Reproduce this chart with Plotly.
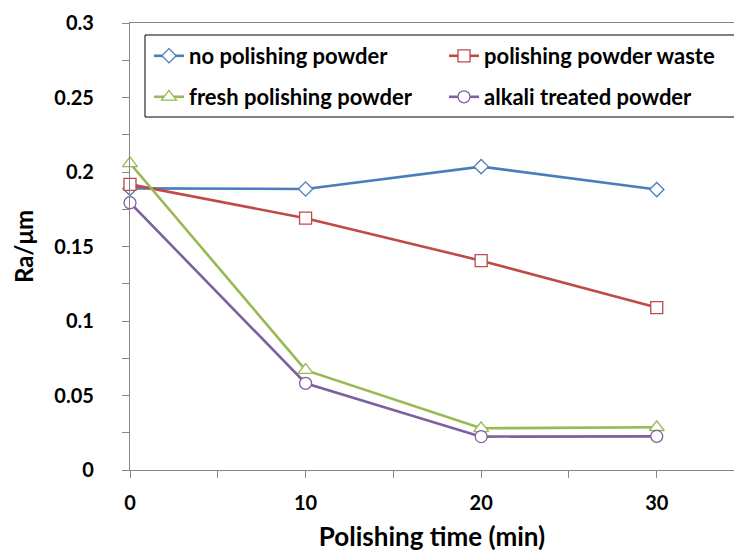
import plotly.graph_objects as go

time_min = [0, 10, 20, 30]
no_powder = [0.189, 0.1886, 0.2036, 0.1882]
powder_waste = [0.1917, 0.169, 0.1405, 0.109]
fresh_powder = [0.2058, 0.067, 0.028, 0.0287]
alkali_powder = [0.1794, 0.0582, 0.0224, 0.0226]

series = [
    ("no polishing powder", no_powder, "#4a7ebb", "diamond", 11, "legend"),
    ("polishing powder waste", powder_waste, "#be4b48", "square", 12, "legend2"),
    ("fresh polishing powder", fresh_powder, "#98b954", "triangle-up", 13, "legend3"),
    ("alkali treated powder", alkali_powder, "#7d60a0", "circle", 12, "legend4"),
]

fig = go.Figure()
for name, vals, col, sym, sz, lg in series:
    fig.add_trace(go.Scatter(
        x=time_min, y=vals, name=name, mode="lines+markers",
        line=dict(color=col, width=2.6),
        marker=dict(symbol=sym, size=sz, color="white", line=dict(width=1.3, color=col)),
        cliponaxis=False, legend=lg,
    ))

font_fam = "Lato, 'Open Sans', sans-serif"
leg_common = dict(
    orientation="v", xanchor="left", yanchor="middle",
    borderwidth=0, bgcolor="rgba(0,0,0,0)",
    font=dict(size=22, family=font_fam, color="black", weight="bold"),
)

PL, PR, PT, PB = 130, 734, 23, 470  # plot area in page pixels


def px_x(p):
    return (p - PL) / float(PR - PL)


def px_y(p):
    return (PB - p) / float(PB - PT)


fig.update_layout(
    width=734, height=552,
    margin=dict(l=PL, r=734 - PR, t=PT, b=552 - PB, autoexpand=False),
    paper_bgcolor="white", plot_bgcolor="white",
    font=dict(family=font_fam, color="black"),
    showlegend=True,
    legend=dict(x=px_x(149), y=px_y(56), **leg_common),
    legend2=dict(x=px_x(444), y=px_y(56), **leg_common),
    legend3=dict(x=px_x(149), y=px_y(97), **leg_common),
    legend4=dict(x=px_x(444), y=px_y(97), **leg_common),
    shapes=[dict(type="rect", xref="paper", yref="paper",
                 x0=px_x(145), x1=px_x(745), y0=px_y(117), y1=px_y(35),
                 line=dict(color="black", width=1), layer="below")],
    xaxis=dict(
        range=[0, 34.4], tickvals=[0, 10, 20, 30],
        showgrid=False, zeroline=False, automargin=False,
        showline=True, linecolor="#868686", linewidth=1.3, mirror=True,
        ticks="outside", ticklen=7, tickcolor="#868686",
        minor=dict(tickvals=[5, 15, 25], ticks="outside", ticklen=7, tickcolor="#868686"),
        tickfont=dict(size=20, family=font_fam, weight="bold"),
        title=dict(text="Polishing time (min)", font=dict(size=26, family=font_fam, weight="bold"), standoff=15),
        ticklabelstandoff=8,
    ),
    yaxis=dict(
        range=[0, 0.3], tickvals=[0, 0.05, 0.1, 0.15, 0.2, 0.25, 0.3],
        ticktext=["0", "0.05", "0.1", "0.15", "0.2", "0.25", "0.3"],
        showgrid=False, zeroline=False, automargin=False,
        showline=True, linecolor="#868686", linewidth=1.3,
        ticks="outside", ticklen=7, tickcolor="#868686",
        minor=dict(tickvals=[0.025, 0.075, 0.125, 0.175, 0.225, 0.275], ticks="outside", ticklen=7, tickcolor="#868686"),
        tickfont=dict(size=20, family=font_fam, weight="bold"),
        title=dict(text="Ra/μm", font=dict(size=24, family=font_fam, weight="bold"), standoff=13),
        ticklabelstandoff=24,
    ),
)

fig.write_html(
    "out.html",
    config={"displayModeBar": False},
    post_script="document.body.style.margin='0';document.body.style.overflow='hidden';",
)
